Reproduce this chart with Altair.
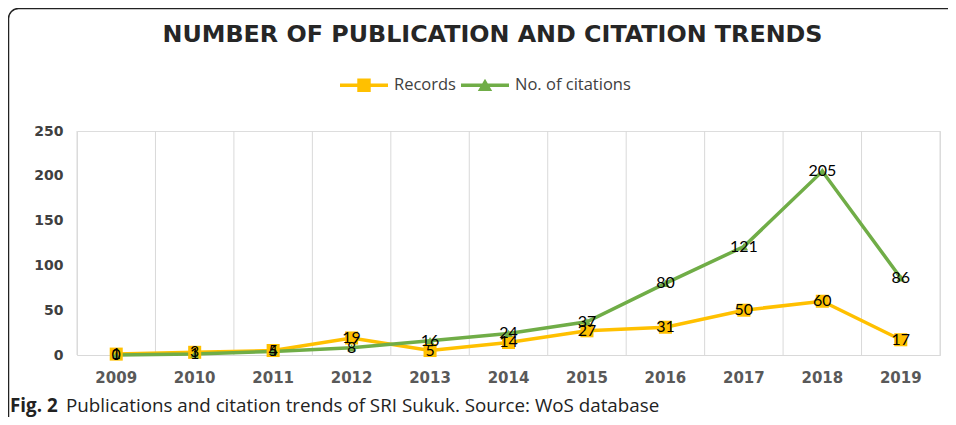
import altair as alt
import pandas as pd

years = ["2009", "2010", "2011", "2012", "2013", "2014", "2015", "2016", "2017", "2018", "2019"]
records = [1, 3, 5, 19, 5, 14, 27, 31, 50, 60, 17]
citations = [0, 1, 4, 8, 16, 24, 37, 80, 121, 205, 86]
series_names = ["Records", "No. of citations"]
series_colors = ["#FFC000", "#70AD47"]
y_ticks = [0, 50, 100, 150, 200, 250]

title_text = "NUMBER OF PUBLICATION AND CITATION TRENDS"
caption_bold = "Fig. 2"
caption_rest = "Publications and citation trends of SRI Sukuk. Source: WoS database"

rows = []
for y, r in zip(years, records):
    rows.append({"year": y, "series": series_names[0], "value": r})
for y, c in zip(years, citations):
    rows.append({"year": y, "series": series_names[1], "value": c})
df = pd.DataFrame(rows)
grid_df = pd.DataFrame({"year": years})

W, H = 863, 224

xscale = alt.Scale(domain=years, paddingInner=0, paddingOuter=0)
yscale = alt.Scale(domain=[0, 250], nice=False)
cscale = alt.Scale(domain=series_names, range=series_colors)

x_axis = alt.Axis(
    title=None, labelAngle=0, ticks=False, domain=True, domainColor="#d9d9d9",
    domainWidth=1, labelFont="DejaVu Sans", labelFontWeight="bold", labelFontSize=15,
    labelColor="#595959", labelPadding=15, grid=False)
y_axis = alt.Axis(
    title=None, values=y_ticks, ticks=False, domain=False, grid=False,
    labelFont="DejaVu Sans", labelFontWeight="bold", labelFontSize=14,
    labelColor="#404040", labelPadding=14)


def xe(**kw):
    return alt.X("year:N", scale=xscale, sort=years, axis=x_axis, **kw)


def ye():
    return alt.Y("value:Q", scale=yscale, axis=y_axis)


grid_left = alt.Chart(grid_df).mark_rule(color="#d9d9d9", strokeWidth=1).encode(
    x=xe(bandPosition=0))
grid_right = alt.Chart(grid_df.tail(1)).mark_rule(color="#d9d9d9", strokeWidth=1).encode(
    x=xe(bandPosition=1))

lines = alt.Chart(df).mark_line(strokeWidth=3.5).encode(
    x=xe(), y=ye(),
    color=alt.Color("series:N", scale=cscale, legend=None),
    detail="series:N")

points = alt.Chart(df).mark_point(filled=True, opacity=1).encode(
    x=xe(), y=ye(),
    color=alt.Color("series:N", scale=cscale, legend=None),
    shape=alt.Shape("series:N", scale=alt.Scale(domain=series_names, range=["square", "triangle-up"]), legend=None),
    size=alt.Size("series:N", scale=alt.Scale(domain=series_names, range=[170, 70]), legend=None))

legend_paths = [
    "M-1,-0.075H1V0.075H-1Z M-0.28,-0.28H0.28V0.28H-0.28Z",
    "M-1,-0.075H1V0.075H-1Z M0,-0.27L0.3,0.24H-0.3Z",
]
leg = alt.Legend(
    title=None, orient="none", legendX=263, legendY=-70, direction="horizontal",
    symbolSize=2304, symbolOpacity=1, symbolStrokeWidth=0,
    labelFont="Open Sans", labelFontSize=16.5, labelColor="#404040",
    labelOffset=6, columnPadding=5, padding=0)
legend_layer = alt.Chart(df).mark_point(filled=True, opacity=0).encode(
    x=xe(), y=ye(),
    color=alt.Color("series:N", scale=cscale, legend=leg),
    shape=alt.Shape("series:N", scale=alt.Scale(domain=series_names, range=legend_paths), legend=leg))

labels = alt.Chart(df).mark_text(font="Lato", fontSize=16, color="#000000",
                                 align="center", baseline="middle").encode(
    x=xe(), y=ye(), text="value:Q")

frame = alt.Chart(alt.Data(values=[{}])).mark_rect(
    fill=None, stroke="#222222", strokeWidth=1.5, cornerRadius=10).encode(
    x=alt.value(-68.5), x2=alt.value(920), y=alt.value(-122.5), y2=alt.value(320))

cap1 = alt.Chart(alt.Data(values=[{"t": caption_bold}])).mark_text(
    font="Open Sans", fontSize=18.8, fontWeight="bold", color="#222222",
    align="left", baseline="alphabetic").encode(
    x=alt.value(-67), y=alt.value(281), text="t:N")
cap2 = alt.Chart(alt.Data(values=[{"t": caption_rest}])).mark_text(
    font="Open Sans", fontSize=18.8, color="#222222",
    align="left", baseline="alphabetic").encode(
    x=alt.value(-11), y=alt.value(281), text="t:N")

chart = alt.layer(
    frame, grid_left, grid_right, lines, points, legend_layer, labels, cap1, cap2
).resolve_scale(shape="independent", size="independent").resolve_legend(
    color="independent", shape="independent").properties(
    width=W, height=H,
    title=alt.TitleParams(title_text, font="DejaVu Sans", fontSize=23.8, fontWeight="bold",
                          color="#262626", anchor="middle", frame="group", dx=-16, offset=-39),
    padding={"left": 69, "top": 123, "right": 8, "bottom": 62},
    autosize=alt.AutoSizeParams(type="none"),
).configure_view(stroke=None).configure(background="white")

chart.save("out.html", embed_options={"renderer": "svg", "actions": False})
